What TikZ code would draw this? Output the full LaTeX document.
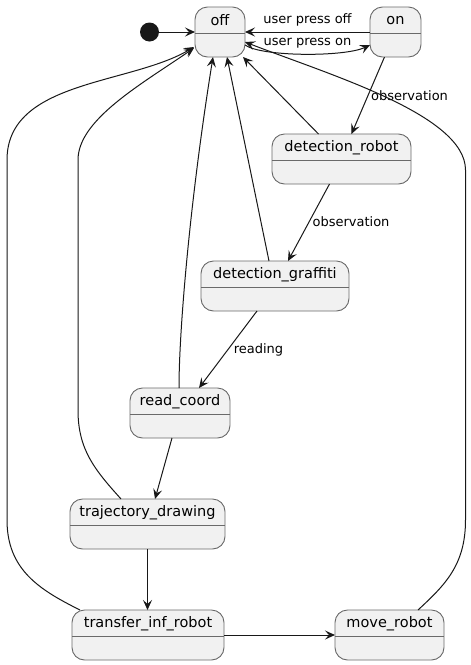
\documentclass[tikz,border=0pt]{standalone}
\usepackage{fontspec}
\setmainfont{DejaVu Sans}
\usetikzlibrary{arrows.meta,calc}
\definecolor{stfill}{HTML}{F1F1F1}
\definecolor{stline}{HTML}{6A6A6A}
\definecolor{edgec}{HTML}{181818}
\tikzset{
 stbox/.style={draw=stline, fill=stfill, line width=0.9pt, rounded corners=12.5pt, minimum height=50pt, inner sep=0pt, outer sep=0pt},
 sttext/.style={font=\fontsize{14.5}{17}\selectfont, inner sep=0pt, text=black},
 stdiv/.style={draw=stline, line width=0.9pt},
 lbl/.style={font=\fontsize{13}{15}\selectfont, inner sep=0pt, text=black},
 tr/.style={draw=edgec, line width=1pt, -{Stealth[length=10pt,width=9pt,inset=4pt]}},
 initdot/.style={circle, fill=edgec, minimum size=19pt, inner sep=0pt, outer sep=0pt},
}
\newcommand{\stbx}[5]{%
 \node[stbox, minimum width=#4pt] (#1) at (#2,#3+25) {};
 \node[sttext] (#1-t) at (#2,#3+13.3) {#5};
 \draw[stdiv] ($(#1.north west)+(0,26)$) -- ($(#1.north east)+(0,26)$);
}
\begin{document}
\begin{tikzpicture}[x=1pt,y=-1pt]
\useasboundingbox (0,0) rectangle (471,665);
\node[initdot] (init) at (149.5,32) {};
\stbx{off}{220}{7}{50}{off}
\stbx{on}{395.5}{7}{51}{on}
\stbx{detr}{341.5}{134}{139}{detection\_robot}
\stbx{detg}{275}{261}{148}{detection\_graffiti}
\stbx{read}{180}{388}{100}{read\_coord}
\stbx{traj}{147.5}{499}{155}{trajectory\_drawing}
\stbx{trans}{148}{610}{152}{transfer\_inf\_robot}
\stbx{move}{389.5}{610}{109}{move\_robot}

% init -> off
\draw[tr] (init.east) -- (off.west);
% on -> off
\draw[tr] (on.west) -- (off.east);
\node[lbl] (l1) at (307.5,20) {user press off};
% off -> on
\draw[tr] ($(off.east)+(0,13)$) .. controls (262,57) and (345,57) .. ($(on.west)+(0,13)$);
\node[lbl] (l2) at (307.5,43.5) {user press on};
% on -> detection_robot
\draw[tr] ($(on.south)+(-11,0)$) -- ($(detr.north)+(10,0)$);
\node[lbl] (l3) at (409.5,95.5) {observation};
% detection_robot -> off
\draw[tr] ($(detr.north)+(-23,0)$) -- ($(off.south east)+(-2,0)$);
% detection_robot -> detection_graffiti
\draw[tr] ($(detr.south)+(-12,0)$) -- ($(detg.north)+(13,0)$);
\node[lbl] (l4) at (351,222) {observation};
% detection_graffiti -> off
\draw[tr] ($(detg.north)+(-6,0)$) -- ($(off.south)+(7,0)$);
% detection_graffiti -> read_coord
\draw[tr] ($(detg.south)+(-18,0)$) -- ($(read.north)+(19,0)$);
\node[lbl] (l5) at (258.5,350) {reading};
% read_coord -> off
\draw[tr] ($(read.north)+(-1,0)$) .. controls (179,330) and (190,200) .. ($(off.south)+(-7,0)$);
% read_coord -> trajectory_drawing
\draw[tr] ($(read.south)+(-8,0)$) -- ($(traj.north)+(7.5,0)$);
% trajectory_drawing -> off
\draw[tr] ($(traj.north)+(-26.5,0)$) .. controls (95,470) and (78,450) .. (78,410)
   -- (78,160) .. controls (78,120) and (140,85) .. ($(off.west)+(-1,16)$);
% trajectory_drawing -> transfer_inf_robot
\draw[tr] (traj.south) -- (traj.south |- trans.north);
% transfer_inf_robot -> off
\draw[tr] ($(trans.north)+(-68,0)$) .. controls (40,590) and (7,570) .. (7,520)
   -- (7,160) .. controls (7,80) and (130,85) .. ($(off.west)+(-1,15)$);
% transfer_inf_robot -> move_robot
\draw[tr] (trans.east) -- (move.west);
% move_robot -> off
\draw[tr] ($(move.north)+(28.5,0)$) .. controls (445,585) and (465.5,565) .. (465.5,520)
   -- (465.5,170) .. controls (465.5,115) and (330,75) .. ($(off.east)+(0,10)$);
\end{tikzpicture}
\end{document}
